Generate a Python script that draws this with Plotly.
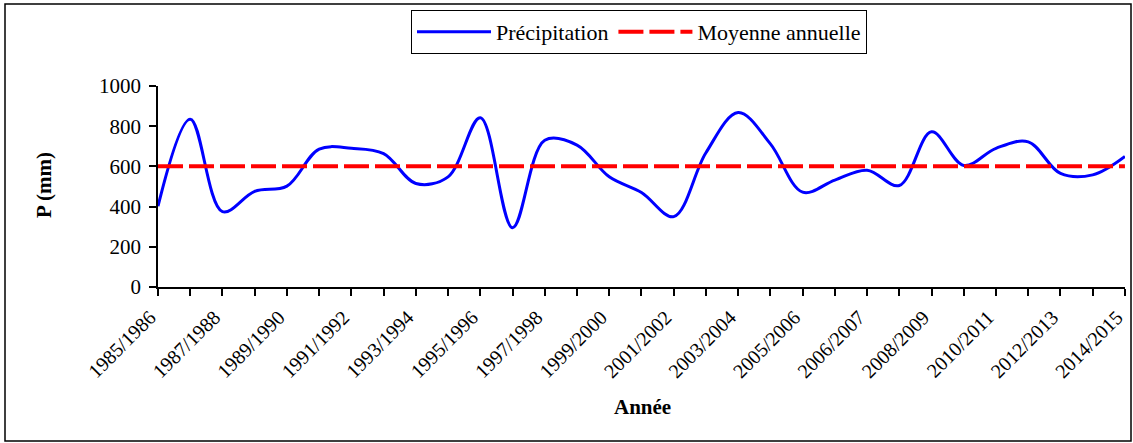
import plotly.graph_objects as go

# ---- data ----
annees = [
    "1985/1986", "1986/1987", "1987/1988", "1988/1989", "1989/1990",
    "1990/1991", "1991/1992", "1992/1993", "1993/1994", "1994/1995",
    "1995/1996", "1996/1997", "1997/1998", "1998/1999", "1999/2000",
    "2000/2001", "2001/2002", "2002/2003", "2003/2004", "2004/2005",
    "2005/2006", "2005/2006 ", "2006/2007", "2007/2008", "2008/2009",
    "2009/2010", "2010/2011", "2011/2012", "2012/2013", "2013/2014",
    "2014/2015",
]
precipitation = [
    402, 835, 375, 476, 502, 686, 690, 664, 515, 548,
    842, 295, 730, 706, 548, 470, 350, 668, 868, 712,
    472, 532, 581, 505, 772, 605, 690, 722, 565, 558,
    650,
]
moyenne_annuelle = 601

y_ticks = [0, 200, 400, 600, 800, 1000]

# ---- layout helpers (pixel geometry) ----
W, H = 1133, 443
L, R, T, B = 158, 8, 86, 156
PW, PH = W - L - R, H - T - B


def px_x(p):
    return (p - L) / PW


def px_y(p):
    return (H - B - p) / PH


FONT = "Liberation Serif, Times New Roman, serif"

x_idx = list(range(len(annees)))
tick_text = [a.strip() if i % 2 == 0 else "" for i, a in enumerate(annees)]
x_range = [0, len(annees) - 1 + 0.002]

fig = go.Figure()
fig.add_trace(go.Scatter(
    x=x_idx, y=precipitation, mode="lines", name="Précipitation",
    line=dict(color="#0000FF", width=3, shape="spline", smoothing=1),
))
fig.add_trace(go.Scatter(
    x=x_idx, y=[moyenne_annuelle] * len(x_idx), mode="lines",
    name="Moyenne annuelle",
    line=dict(color="#FF0000", width=4, dash="25px,6px"),
))

fig.update_layout(
    width=W, height=H, autosize=False,
    margin=dict(l=L, r=R, t=T, b=B, pad=0, autoexpand=False),
    paper_bgcolor="white", plot_bgcolor="white",
    font=dict(family=FONT, size=20, color="black"),
    showlegend=True,
    legend=dict(
        orientation="h", x=px_x(639), xanchor="center",
        y=px_y(10), yanchor="top",
        bordercolor="black", borderwidth=1, bgcolor="white",
        font=dict(family=FONT, size=22, color="black"),
        itemwidth=74,
    ),
    xaxis=dict(
        range=x_range, tickmode="array", automargin=False,
        tickvals=x_idx, ticktext=tick_text, tickangle=-45,
        ticklabeloverflow="allow", ticklabelshift=-8, ticklabelstandoff=2,
        ticks="outside", ticklen=7, tickwidth=1.5, tickcolor="black",
        showline=True, linecolor="black", linewidth=1.5,
        showgrid=False, zeroline=False,
        tickfont=dict(family=FONT, size=20),
    ),
    xaxis2=dict(
        range=x_range, overlaying="x", anchor="y", side="bottom",
        tickmode="array", tickvals=x_idx, ticks="inside", ticklen=5,
        tickwidth=1.5, tickcolor="black", showticklabels=False,
        showline=False, showgrid=False, zeroline=False, automargin=False,
    ),
    yaxis=dict(
        range=[0, 1000], tickmode="array", tickvals=y_ticks, automargin=False,
        ticks="outside", ticklen=7, tickwidth=1.5, tickcolor="black",
        showline=True, linecolor="black", linewidth=1.5,
        showgrid=False, zeroline=False, ticklabelstandoff=4,
        tickfont=dict(family=FONT, size=21),
    ),
    yaxis2=dict(
        range=[0, 1000], overlaying="y", anchor="x", side="left",
        tickmode="array", tickvals=y_ticks, ticks="inside", ticklen=6,
        tickwidth=1.5, tickcolor="black", showticklabels=False,
        showline=False, showgrid=False, zeroline=False, automargin=False,
    ),
    annotations=[
        dict(text="<b>P (mm)</b>", xref="paper", yref="paper",
             x=px_x(44), y=px_y(185), textangle=-90, showarrow=False,
             xanchor="center", yanchor="middle",
             font=dict(family=FONT, size=21)),
        dict(text="<b>Année</b>", xref="paper", yref="paper",
             x=px_x(642), y=px_y(407), showarrow=False,
             xanchor="center", yanchor="middle",
             font=dict(family=FONT, size=21)),
    ],
    shapes=[
        dict(type="rect", xref="paper", yref="paper",
             x0=px_x(5), x1=px_x(1131), y0=px_y(441), y1=px_y(4),
             line=dict(color="black", width=1.5), fillcolor="rgba(0,0,0,0)",
             layer="below"),
    ],
)

fig.write_html(
    "out.html",
    config={"displayModeBar": False},
    post_script="document.body.style.margin='0px';document.body.style.overflow='hidden';",
)
